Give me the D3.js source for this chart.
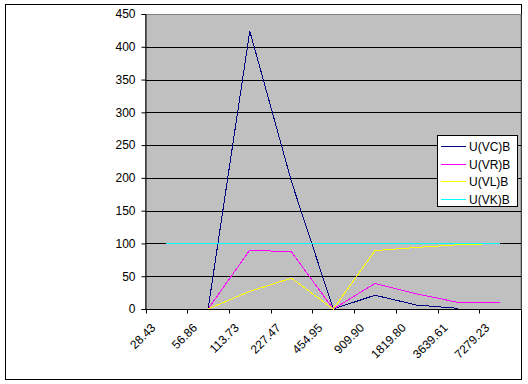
<!DOCTYPE html>
<html>
<head>
<meta charset="utf-8">
<script src="https://cdn.jsdelivr.net/npm/d3@7/dist/d3.min.js"></script>
<style>
  html, body { margin: 0; padding: 0; background: #ffffff; }
  svg { display: block; }
  text { font-family: "Liberation Sans", Arial, sans-serif; font-size: 12px; fill: #000; }
</style>
</head>
<body>
<div id="chart"></div>
<script>
// ---- data ----
const categories = ["28.43", "56.86", "113.73", "227.47", "454.95", "909.90", "1819.80", "3639.61", "7279.23"];
const seriesNames = ["U(VC)B", "U(VR)B", "U(VL)B", "U(VK)B"];
const vcValues = [null, 0, 424, 194, 0, 21, 6, 1, null];
const vrValues = [null, 0, 90, 87, 0, 39, 23, 10, 10];
const vlValues = [null, 0, 27, 47, 0, 89, 94, 98, 100];
const vkValues = [100, 100, 100, 100, 100, 100, 100, 100, 100];
const yTicks = [0, 50, 100, 150, 200, 250, 300, 350, 400, 450];
const seriesColors = ["#000080", "#ff00ff", "#ffff00", "#00ffff"];

const W = 528, H = 384;
const plot = { left: 145.5, right: 521, top: 14, bottom: 309 };

const svg = d3.select("#chart").append("svg")
  .attr("width", W).attr("height", H);

// outer frame
svg.append("rect")
  .attr("x", 5.5).attr("y", 4.5)
  .attr("width", 516).attr("height", 375)
  .attr("fill", "#ffffff").attr("stroke", "#000").attr("stroke-width", 1);

const x = d3.scaleBand().domain(categories).range([plot.left, plot.right]).padding(0);
const y = d3.scaleLinear().domain([0, 450]).range([plot.bottom, plot.top]);
const cx = c => x(c) + x.bandwidth() / 2;

// plot area
svg.append("rect")
  .attr("x", plot.left).attr("y", plot.top + 0.5)
  .attr("width", plot.right - plot.left).attr("height", plot.bottom - plot.top)
  .attr("fill", "#c0c0c0").attr("stroke", "#808080").attr("stroke-width", 1);

// gridlines
svg.append("g").selectAll("line")
  .data(yTicks.filter(t => t > 0 && t < 450))
  .join("line")
  .attr("x1", plot.left).attr("x2", plot.right)
  .attr("y1", d => Math.round(y(d)) + 0.5).attr("y2", d => Math.round(y(d)) + 0.5)
  .attr("stroke", "#000").attr("stroke-width", 1);

// y axis
const yAxis = d3.axisLeft(y).tickValues(yTicks).tickSize(4).tickPadding(6)
  .tickFormat(d3.format("d"));
const gy = svg.append("g").attr("transform", `translate(${plot.left},0)`).call(yAxis);
gy.select(".domain").attr("stroke", "#000");
gy.selectAll(".tick line").attr("stroke", "#000");
gy.selectAll(".tick text").attr("font-size", 12).attr("font-family", "Liberation Sans, Arial, sans-serif").attr("fill", "#000");

// x axis
const gx = svg.append("g").attr("transform", `translate(0,${plot.bottom + 0.5})`);
gx.append("line").attr("x1", plot.left).attr("x2", plot.right)
  .attr("y1", 0).attr("y2", 0).attr("stroke", "#000");
const bounds = categories.map(c => x(c)).concat([plot.right]);
gx.selectAll("line.tk").data(bounds).join("line").attr("class", "tk")
  .attr("x1", d => Math.round(d) + 0.5).attr("x2", d => Math.round(d) + 0.5)
  .attr("y1", 0).attr("y2", 4).attr("stroke", "#000");
gx.selectAll("text").data(categories).join("text")
  .attr("transform", d => `translate(${cx(d) - 13},${16}) rotate(-45)`)
  .attr("text-anchor", "end")
  .attr("dy", "0.35em")
  .text(d => d);

// lines
const allValues = [vcValues, vrValues, vlValues, vkValues];
const line = d3.line()
  .defined(d => d.v !== null)
  .x(d => cx(d.c))
  .y(d => y(d.v));
allValues.forEach((vals, i) => {
  const pts = categories.map((c, j) => ({ c: c, v: vals[j] }));
  svg.append("path")
    .datum(pts)
    .attr("d", line)
    .attr("fill", "none")
    .attr("stroke", seriesColors[i])
    .attr("stroke-width", 1)
    .attr("shape-rendering", "crispEdges");
});

// legend
const lg = svg.append("g");
lg.append("rect")
  .attr("x", 437.5).attr("y", 135.5).attr("width", 80).attr("height", 71)
  .attr("fill", "#fff").attr("stroke", "#000");
seriesNames.forEach((n, i) => {
  const yy = Math.round(146 + i * 17.7) + 0.5;
  lg.append("line").attr("x1", 441).attr("x2", 466)
    .attr("y1", yy).attr("y2", yy)
    .attr("stroke", seriesColors[i]).attr("stroke-width", 1)
    .attr("shape-rendering", "crispEdges");
  lg.append("text").attr("x", 469).attr("y", yy).attr("dy", "0.36em")
    .attr("font-size", 12.5).text(n);
});
</script>
</body>
</html>
